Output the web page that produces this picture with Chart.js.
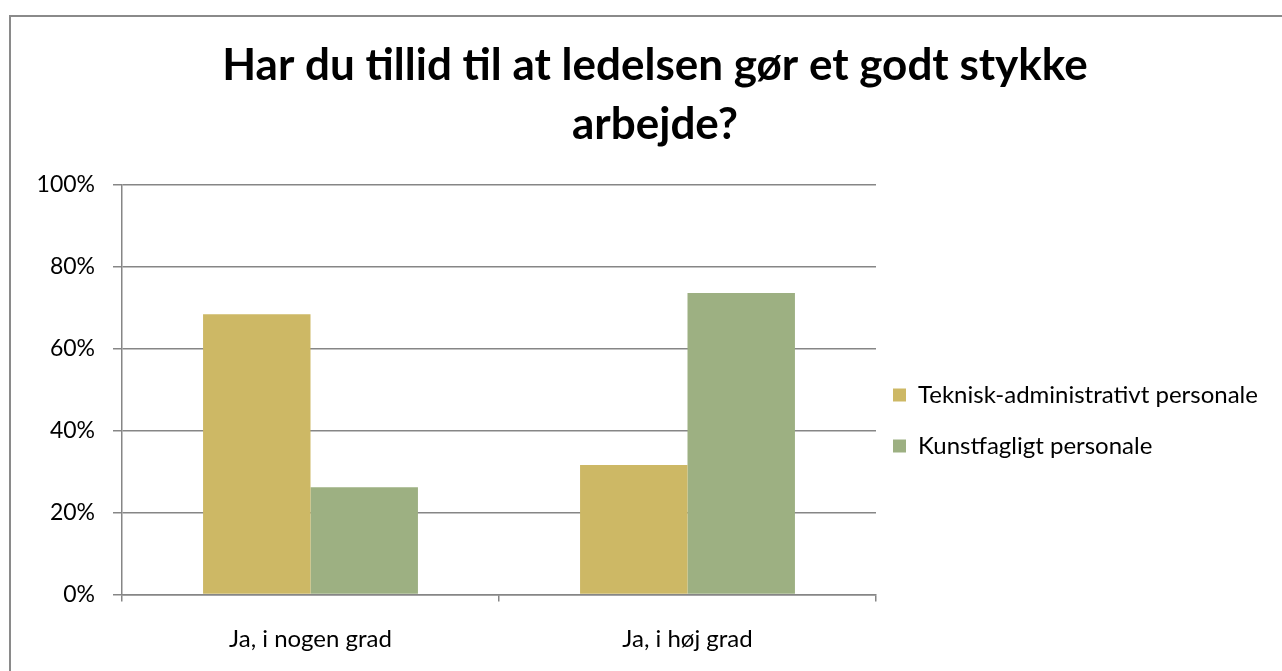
<!DOCTYPE html>
<html>
<head>
<meta charset="utf-8">
<script src="https://cdn.jsdelivr.net/npm/chart.js@4.4.1/dist/chart.umd.min.js"></script>
<style>
  body { margin: 0; background: #fff; overflow: hidden; }
  #frame { position: absolute; left: 9px; top: 15px; width: 1320px; height: 840px; border: 2px solid #8a8a8a; }
  #box { position: absolute; left: 11px; top: 17px; width: 1288px; height: 817px; }
</style>
</head>
<body>
<div id="frame"></div>
<div id="box"><canvas id="myChart"></canvas></div>
<script>
//Data
const titleLines = ["Har du tillid til at ledelsen gør et godt stykke", "arbejde?"]
const categories = ["Ja, i nogen grad", "Ja, i høj grad"]
const seriesNames = ["Teknisk-administrativt personale", "Kunstfagligt personale"]
const tekniskValues = [68.4, 31.6]
const kunstValues = [26.2, 73.6]
const yTicks = [0, 20, 40, 60, 80, 100]
const colors = ["#CDB865", "#9DB082"]

const gridGray = "#868686"

const ctx = document.getElementById("myChart").getContext("2d")
const myChart = new Chart(ctx, {
  type: "bar",
  data: {
    labels: categories,
    datasets: [{
      label: seriesNames[0],
      data: tekniskValues,
      backgroundColor: colors[0]
    },
    {
      label: seriesNames[1],
      data: kunstValues,
      backgroundColor: colors[1]
    }]
  },
  options: {
    responsive: true,
    maintainAspectRatio: false,
    animation: false,
    categoryPercentage: 0.57,
    barPercentage: 1.0,
    plugins: {
      title: {
        display: true,
        text: titleLines,
        color: "#000",
        font: { family: "Lato", weight: "bold", size: 44, lineHeight: "58.5px" },
        padding: { top: 20, bottom: 30.7 }
      },
      legend: {
        position: "right",
        align: "center",
        maxWidth: 423,
        labels: {
          color: "#000",
          font: { family: "Lato", size: 24, lineHeight: "34px" },
          boxWidth: 13,
          boxHeight: 13,
          padding: 17,
          // text sebagai array supaya jarak baris ikut lineHeight
          generateLabels: chart => Chart.defaults.plugins.legend.labels.generateLabels(chart)
            .map(item => Object.assign(item, { text: [item.text] }))
        }
      },
      tooltip: { enabled: false }
    },
    scales: {
      x: {
        grid: { offset: true, drawOnChartArea: false, drawTicks: true, tickLength: 7, color: gridGray, lineWidth: 1.5 },
        border: { color: gridGray, width: 1.5 },
        ticks: { color: "#000", font: { family: "Lato", size: 24 }, padding: 23 },
        afterFit: scale => { scale.height = 817 - 577.5 }
      },
      y: {
        min: 0,
        max: 100,
        afterBuildTicks: scale => { scale.ticks = yTicks.map(v => ({ value: v })) },
        grid: { color: gridGray, lineWidth: 1.5, tickLength: 9 },
        border: { color: gridGray, width: 1.5 },
        ticks: {
          color: "#000",
          font: { family: "Lato", size: 23 },
          padding: 18,
          callback: v => v + "%"
        },
        afterFit: scale => { scale.width = 111 }
      }
    }
  }
})

//Legend dibuat selebar sisa kanan (876px -> tepi kanan), supaya judul tetap di tengah bingkai
const legend = myChart.legend
const fitAsli = legend.fit
legend.fit = function () {
  fitAsli.call(this)
  this.width = 423
}
myChart.update()
</script>
</body>
</html>
